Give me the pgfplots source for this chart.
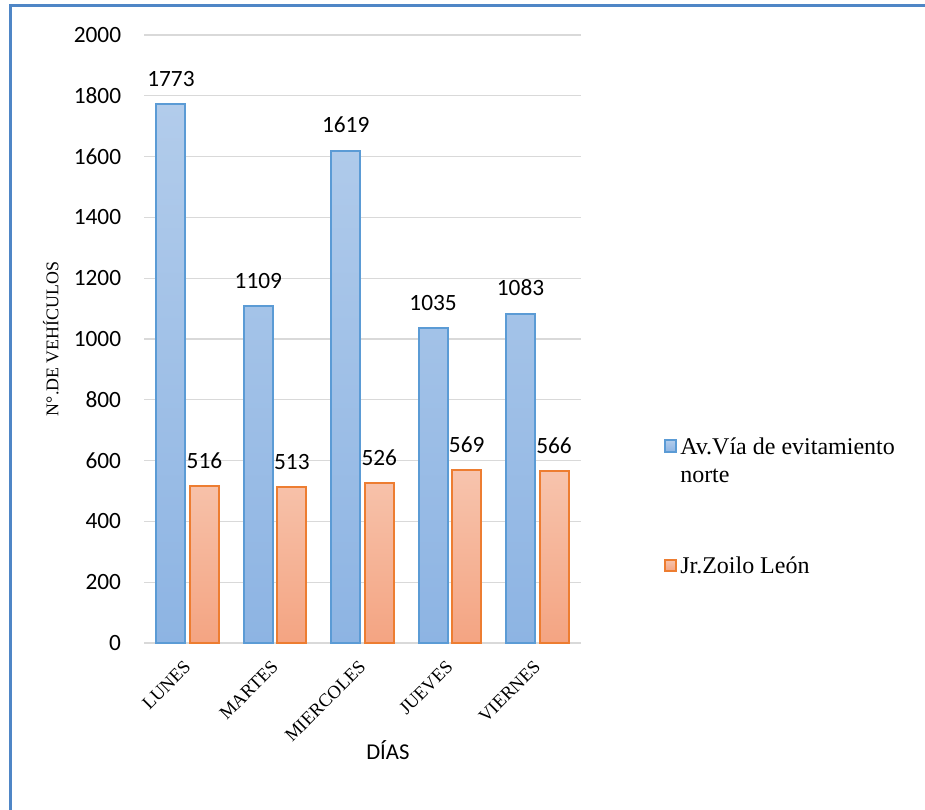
\documentclass[border=0pt]{standalone}
\usepackage{fontspec}
\setmainfont{Liberation Serif}
\newfontfamily\calibri{Carlito}
\usepackage{pgfplots}
\pgfplotsset{compat=1.18}
\definecolor{bluedge}{HTML}{5B9BD5}
\definecolor{bluetop}{HTML}{B2CCEB}
\definecolor{bluebot}{HTML}{8DB4E3}
\definecolor{oredge}{HTML}{ED7D31}
\definecolor{ortop}{HTML}{F7C4AD}
\definecolor{orbot}{HTML}{F4A482}
\definecolor{gridgray}{HTML}{D9D9D9}
\definecolor{frameblue}{HTML}{4F86C6}
\pgfplotsset{mylegend/.style={legend image code/.code={\draw[##1, line width=1.5pt] (0pt,1.75pt) rectangle (8.5pt,10.25pt);}}}
\begin{document}
\begin{tikzpicture}
\draw[frameblue, line width=2.25pt] (7.5pt,-5pt) -- (7.5pt,603.15pt) -- (700pt,603.15pt);
\begin{axis}[
 at={(108pt,125.25pt)}, anchor=south west,
 scale only axis, width=327.75pt, height=456pt,
 ybar=3.4pt, bar width=21.75pt,
 xmin=-0.5, xmax=4.5, ymin=0, ymax=2000,
 ytick={0,200,...,2000},
 xtick={0,1,2,3,4},
 xticklabels={LUNES,MARTES,MIERCOLES,JUEVES,VIERNES},
 axis x line*=bottom, axis y line*=left,
 x axis line style={draw=gridgray, line width=1pt, -},
 y axis line style={draw=none, -},
 major tick length=0pt,
 ymajorgrids, grid style={gridgray, line width=0.9pt},
 /pgf/number format/assume math mode=true,
 /pgf/number format/1000 sep={},
 yticklabel style={font=\calibri\fontsize{17.5}{20}\selectfont, anchor=east, inner sep=0pt, xshift=-17pt},
 xticklabel style={font=\fontsize{13.9}{15}\selectfont, xshift=0pt, yshift=-15.75pt, rotate=45, anchor=east, inner sep=0pt},
 ylabel={N°.DE VEHÍCULOS},
 ylabel style={font=\fontsize{13.4}{15}\selectfont, at={(axis description cs:-0.213,0.5)}, anchor=center},
 xlabel={DÍAS},
 xlabel style={font=\calibri\fontsize{17}{20}\selectfont, at={(axis description cs:0.558,-0.176)}, anchor=center},
 nodes near coords,
 nodes near coords style={font=\calibri\fontsize{17.5}{20}\selectfont, anchor=south, inner sep=0pt, yshift=12.5pt, /pgf/number format/1000 sep={}},
 clip=false,
 legend style={at={(axis description cs:1.189,0.343)}, anchor=north west, draw=none, fill=none, inner sep=0pt, outer sep=0pt, font=\fontsize{18}{21}\selectfont, nodes={inner sep=0pt}, column sep=2.5pt, row sep=75.5pt, cells={anchor=base west}},
]
\addplot[draw=bluedge, line width=1.5pt, top color=bluetop, bottom color=bluebot, mylegend] coordinates {(0,1773) (1,1109) (2,1619) (3,1035) (4,1083)};
\addplot[draw=oredge, line width=1.5pt, top color=ortop, bottom color=orbot, mylegend] coordinates {(0,516) (1,513) (2,526) (3,569) (4,566)};
\legend{{\begin{tabular}[t]{@{}l@{}}Av.Vía de evitamiento\\norte\end{tabular}}, {Jr.Zoilo León}}
\end{axis}
\pgfresetboundingbox
\path[use as bounding box] (0,0) rectangle (693.75pt,607.5pt);
\end{tikzpicture}
\end{document}
